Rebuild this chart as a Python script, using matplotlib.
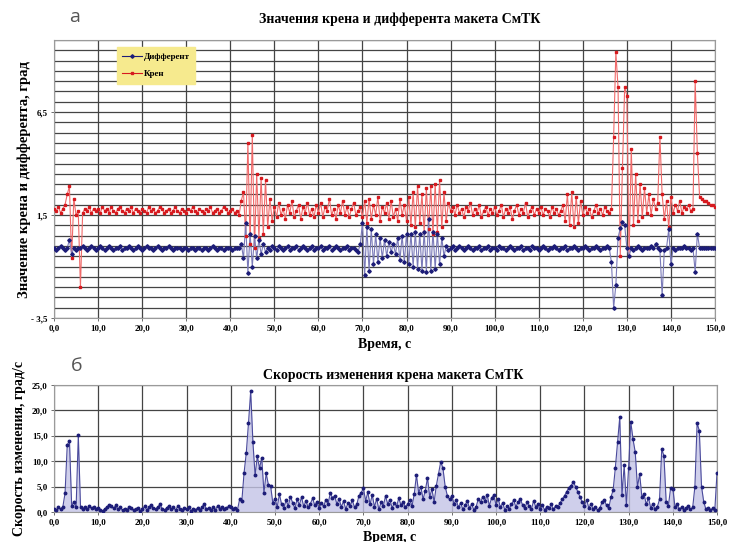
import numpy as np
import matplotlib
matplotlib.use("Agg")
import matplotlib.pyplot as plt
from matplotlib.lines import Line2D
from matplotlib.ticker import FuncFormatter, MultipleLocator

# ---------------- data (sampled every 0.5 s, 0 ... 150 s) ----------------
dt = 0.5

kren = [  # Крен, град
    1.8, 1.7, 1.9, 1.6, 1.8, 2.0, 2.5, 2.9, -0.6, 2.3, 1.5, 1.7, -2.0, 1.6, 1.8, 1.7, 1.9, 1.6, 1.8, 1.7,
    1.8, 1.6, 1.9, 1.7, 1.8, 1.6, 1.9, 1.7, 1.6, 1.8, 1.9, 1.7, 1.6, 1.8, 1.7, 1.9, 1.6, 1.8, 1.7, 1.6,
    1.8, 1.7, 1.6, 1.9, 1.7, 1.8, 1.6, 1.7, 1.9, 1.8, 1.6, 1.7, 1.8, 1.6, 1.7, 1.9, 1.7, 1.6, 1.8, 1.7,
    1.6, 1.8, 1.7, 1.9, 1.7, 1.6, 1.8, 1.7, 1.6, 1.8, 1.7, 1.9, 1.6, 1.7, 1.8, 1.6, 1.7, 1.9, 1.8, 1.6,
    1.7, 1.8, 1.6, 1.7, 1.5, 2.2, 2.6, 0.5, 5.0, 0.1, 5.4, -0.1, 3.5, 0.4, 3.3, 0.6, 3.2, 0.9, 2.3, 1.2,
    1.9, 1.4, 2.1, 1.5, 1.8, 1.3, 2.0, 1.6, 2.2, 1.4, 1.7, 2.0, 1.3, 1.9, 1.6, 2.1, 1.5, 1.8, 1.4, 2.0,
    1.6, 2.1, 1.4, 1.9, 1.7, 2.3, 1.5, 1.8, 1.3, 2.0, 1.6, 2.2, 1.5, 1.9, 1.4, 1.8, 2.1, 1.5, 1.7, 1.9,
    1.4, 2.2, 1.1, 2.3, 1.3, 2.0, 1.5, 2.4, 1.2, 1.9, 1.6, 2.1, 1.3, 2.2, 1.4, 1.8, 1.2, 2.3, 1.5, 2.0,
    1.2, 2.4, 1.0, 2.6, 0.9, 2.9, 1.1, 2.5, 0.7, 2.8, 0.8, 2.9, 0.6, 3.0, 0.7, 3.2, 0.9, 2.6, 1.2, 2.1,
    1.7, 1.9, 1.5, 2.0, 1.6, 1.8, 1.4, 1.9, 1.7, 2.1, 1.5, 1.8, 1.6, 2.0, 1.4, 1.7, 1.9, 1.5, 1.8, 1.6,
    1.9, 1.5, 1.7, 2.0, 1.4, 1.8, 1.6, 1.9, 1.3, 1.7, 2.0, 1.5, 1.8, 1.6, 2.1, 1.4, 1.7, 1.9, 1.5, 1.8,
    1.6, 1.9, 1.5, 1.8, 1.7, 1.4, 1.9, 1.6, 1.8, 1.5, 1.7, 2.0, 1.2, 2.5, 1.0, 2.6, 0.9, 2.4, 1.1, 2.2,
    1.5, 1.9, 1.6, 1.8, 1.4, 1.7, 2.0, 1.6, 1.8, 1.5, 1.9, 1.7, 1.6, 1.8, 5.3, 9.4, 7.7, -0.5, 3.8, 7.7,
    7.3, -0.5, 4.7, 1.0, 3.5, 1.2, 3.0, 1.4, 2.8, 1.6, 2.5, 1.5, 2.3, 1.8, 2.1, 5.3, 2.5, 1.3, 2.2, 0.9,
    2.4, 1.6, 2.0, 1.7, 2.2, 1.6, 1.9, 1.8, 2.0, 1.7, 1.8, 8.0, 4.5, 2.4, 2.3, 2.2, 2.2, 2.1, 2.0, 2.0,
    1.9,
]

different = [  # Дифферент, град
    -0.1, -0.2, -0.1, 0.0, -0.1, -0.2, -0.1, 0.3, -0.4, -0.1, -0.2, -0.1, -0.1, 0.0, -0.1, -0.2, -0.1, 0.0, -0.1, -0.2,
    -0.1, 0.0, -0.1, -0.2, -0.1, 0.0, -0.1, -0.2, -0.1, -0.1, 0.0, -0.2, -0.1, -0.1, 0.0, -0.1, -0.2, -0.1, 0.0, -0.1,
    -0.2, -0.1, 0.0, -0.1, -0.1, -0.2, -0.1, 0.0, -0.1, -0.2, -0.1, -0.1, 0.0, -0.1, -0.2, -0.1, -0.1, -0.1, -0.2, -0.1,
    -0.1, -0.2, -0.1, -0.1, -0.2, -0.1, -0.1, -0.2, -0.1, -0.1, -0.2, -0.1, 0.0, -0.1, -0.2, -0.1, -0.1, -0.2, -0.1, -0.1,
    -0.1, -0.2, -0.1, -0.1, -0.1, 0.1, -0.6, 1.1, -1.3, 0.6, -1.0, 0.5, -0.6, 0.3, -0.4, 0.1, -0.3, -0.1, -0.2, 0.0,
    -0.1, -0.2, 0.0, -0.1, -0.2, -0.1, 0.0, -0.2, -0.1, -0.1, 0.0, -0.2, -0.1, 0.0, -0.1, -0.2, -0.1, 0.0, -0.2, -0.1,
    -0.1, 0.0, -0.2, -0.1, -0.1, 0.0, -0.2, -0.1, 0.0, -0.1, -0.2, -0.1, -0.1, 0.0, -0.2, -0.1, -0.1, -0.2, -0.3, 0.1,
    1.1, -1.4, 0.9, -1.2, 0.8, -0.9, 0.6, -0.8, 0.4, -0.6, 0.3, -0.5, 0.2, -0.3, 0.1, -0.4, 0.4, -0.7, 0.5, -0.8,
    0.6, -0.9, 0.6, -1.0, 0.7, -1.1, 0.6, -1.2, 0.7, -1.25, 1.3, -1.2, 0.7, -1.1, 0.6, -0.9, 0.4, -0.5, 0.0, -0.2,
    -0.1, 0.0, -0.2, -0.1, 0.0, -0.1, -0.2, -0.1, 0.0, -0.1, -0.2, -0.1, -0.1, 0.0, -0.2, -0.1, -0.1, 0.0, -0.2, -0.1,
    -0.1, -0.2, 0.0, -0.1, -0.1, -0.2, -0.1, 0.0, -0.1, -0.2, -0.1, -0.1, 0.0, -0.2, -0.1, -0.1, -0.2, 0.0, -0.1, -0.1,
    -0.2, -0.1, 0.0, -0.1, -0.2, -0.1, -0.1, 0.0, -0.1, -0.2, -0.1, -0.1, 0.0, -0.2, -0.1, -0.1, 0.0, -0.1, -0.2, -0.1,
    -0.1, 0.0, -0.1, -0.2, -0.1, -0.1, 0.0, -0.1, -0.2, -0.1, -0.1, 0.0, -0.1, -0.8, -3.0, -1.9, 0.4, 0.85, 1.15, 1.0,
    -0.1, -0.5, -0.1, -0.2, -0.1, 0.0, -0.1, -0.2, -0.1, -0.1, -0.1, 0.0, -0.1, 0.1, -0.1, -0.2, -2.4, -0.2, -0.1, 0.8,
    -0.9, -0.1, -0.2, -0.1, -0.1, -0.1, 0.0, -0.1, -0.1, -0.2, -0.1, -1.25, 0.6, -0.1, -0.1, -0.1, -0.1, -0.1, -0.1, -0.1,
    -0.1,
]

speed = [  # Скорость изменения крена, град/с
    0.5, 0.3, 0.9, 0.6, 1.0, 3.7, 13.2, 14.0, 1.2, 2.0, 0.9, 15.1, 1.0, 0.6, 0.9, 0.5, 1.1, 0.7, 0.9, 0.6,
    0.8, 0.4, 0.2, 0.6, 1.0, 1.4, 1.2, 0.7, 1.3, 0.5, 0.9, 0.3, 0.6, 0.4, 1.0, 0.7, 0.3, 0.5, 0.8, 0.2,
    0.6, 1.1, 0.4, 0.9, 1.3, 0.7, 0.5, 1.0, 1.5, 0.6, 0.3, 0.8, 1.2, 0.5, 0.9, 0.4, 1.1, 0.6, 0.3, 0.7,
    0.5, 0.9, 0.2, 0.6, 0.4, 0.8, 0.3, 1.0, 1.6, 0.5, 0.7, 0.3, 0.9, 0.4, 1.2, 0.6, 1.0, 0.5, 0.8, 1.1,
    0.9, 0.5, 0.8, 0.4, 2.5, 2.2, 7.7, 11.6, 17.5, 23.8, 13.8, 7.2, 11.0, 8.6, 10.7, 3.8, 7.6, 5.4, 5.2, 1.8,
    2.6, 1.0, 3.5, 1.5, 0.8, 2.3, 1.2, 3.0, 1.8, 0.7, 2.5, 1.4, 2.9, 1.1, 2.2, 0.9, 1.6, 2.7, 1.3, 2.0,
    0.8, 1.8, 1.1, 2.4, 1.6, 3.7, 2.8, 3.2, 1.5, 2.6, 1.0, 2.1, 0.6, 1.7, 1.2, 2.3, 0.9, 1.5, 3.2, 3.8,
    4.7, 2.2, 3.9, 1.5, 3.4, 1.0, 2.6, 0.5, 1.9, 1.2, 3.1, 1.6, 2.4, 0.8, 1.8, 1.1, 2.7, 1.4, 2.0, 1.0,
    1.5, 2.4, 1.2, 3.5, 7.3, 3.8, 5.0, 2.5, 4.2, 6.7, 3.0, 4.5, 2.0, 5.2, 7.5, 9.9, 8.6, 5.0, 3.2, 2.5,
    3.2, 1.6, 2.4, 0.9, 1.8, 0.5, 1.3, 2.2, 0.8, 1.5, 0.4, 1.0, 2.6, 1.9, 3.0, 2.1, 3.4, 1.2, 2.8, 3.3,
    1.4, 2.6, 0.9, 1.8, 0.4, 1.1, 0.6, 1.5, 2.3, 1.0, 2.0, 2.6, 1.4, 0.7, 1.9, 1.2, 0.5, 2.2, 1.0, 1.6,
    0.6, 1.3, 0.4, 1.0, 0.7, 1.5, 0.5, 1.2, 1.0, 1.8, 2.5, 3.2, 4.0, 4.8, 5.2, 5.9, 5.0, 4.0, 3.0, 2.0,
    1.2, 2.4, 0.8, 1.6, 0.5, 1.0, 0.3, 0.8, 1.9, 2.4, 1.3, 0.7, 2.9, 4.3, 8.7, 13.8, 18.7, 3.3, 9.2, 1.4,
    8.7, 17.7, 14.3, 11.8, 4.9, 7.5, 3.0, 3.5, 1.5, 2.8, 0.8, 1.6, 0.5, 1.0, 2.5, 12.4, 11.0, 2.0, 1.2, 4.7,
    4.6, 1.0, 1.5, 0.6, 0.9, 0.4, 0.8, 1.2, 0.5, 0.9, 5.0, 17.5, 16.0, 5.0, 2.0, 0.5, 0.8, 0.4, 0.7, 0.3,
    7.7,
]

x_ticks = [0, 10, 20, 30, 40, 50, 60, 70, 80, 90, 100, 110, 120, 130, 140, 150]
top_yticks = [-3.5, 1.5, 6.5]
bot_yticks = [0, 5, 10, 15, 20, 25]

t_k = np.arange(len(kren)) * dt
t_d = np.arange(len(different)) * dt
t_s = np.arange(len(speed)) * dt

# ---------------- style ----------------
SERIF = ["Liberation Serif", "DejaVu Serif"]
plt.rcParams["font.family"] = SERIF
RED_L, RED_M = "#f06a6a", "#d61a1f"
BLU_L, BLU_M = "#7a7ab8", "#1d1d78"
GRID = "#444444"

def comma(v, pos=None):
    s = f"{abs(v):.1f}".replace(".", ",")
    return ("- " + s) if v < 0 else s

fig = plt.figure(figsize=(7.31, 5.42), dpi=100, facecolor="white")
W, H = 731, 542
def ax_rect(l, t, r, b):
    return [l / W, 1 - b / H, (r - l) / W, (b - t) / H]

# ---------------- top axes ----------------
ax1 = fig.add_axes(ax_rect(54, 40, 715, 318))
ax1.set_xlim(0, 150)
ax1.set_ylim(-3.5, 10.0)
ax1.set_xticks(x_ticks)
ax1.set_yticks(top_yticks)
ax1.yaxis.set_minor_locator(MultipleLocator(0.5))
ax1.xaxis.set_major_formatter(FuncFormatter(comma))
ax1.yaxis.set_major_formatter(FuncFormatter(comma))
ax1.grid(True, which="major", axis="x", color=GRID, lw=0.9)
ax1.grid(True, which="both", axis="y", color=GRID, lw=0.9)
ax1.set_axisbelow(True)

ax1.plot(t_k, kren, color=RED_L, lw=0.8, zorder=3)
ax1.plot(t_k, kren, ls="none", marker="s", ms=2.1, color=RED_M, zorder=4)
ax1.plot(t_d, different, color=BLU_L, lw=0.8, zorder=3)
ax1.plot(t_d, different, ls="none", marker="D", ms=1.8, color=BLU_M, zorder=4)

h1 = Line2D([], [], color=BLU_M, lw=0.8, marker="D", ms=1.8)
h2 = Line2D([], [], color=RED_M, lw=0.8, marker="s", ms=2.1)
leg = ax1.legend([h1, h2], ["Дифферент", "Крен"], loc="upper left",
                 bbox_to_anchor=(0.088, 0.99), frameon=True, fancybox=False,
                 handlelength=2.2, handletextpad=0.2, borderpad=0.6, labelspacing=1.0,
                 prop={"family": SERIF, "weight": "bold", "size": 6.5})
leg.get_frame().set_facecolor("#f6ea8e")
leg.get_frame().set_edgecolor("#f6ea8e")
leg.get_frame().set_alpha(1.0)
leg.set_zorder(6)

ax1.set_xlabel("Время, с", fontsize=10, fontweight="bold", labelpad=4)
ax1.set_ylabel("Значение крена и дифферента, град", fontsize=10.5, fontweight="bold", labelpad=0)

# ---------------- bottom axes ----------------
ax2 = fig.add_axes(ax_rect(54, 385, 717, 512))
ax2.set_xlim(0, 150)
ax2.set_ylim(0, 25)
ax2.set_xticks(x_ticks)
ax2.set_yticks(bot_yticks)
ax2.xaxis.set_major_formatter(FuncFormatter(comma))
ax2.yaxis.set_major_formatter(FuncFormatter(comma))
ax2.grid(True, which="major", color=GRID, lw=0.9)
ax2.set_axisbelow(True)
ax2.fill_between(t_s, speed, 0, color="#c4c4e6", alpha=0.8, lw=0, zorder=2)
ax2.plot(t_s, speed, color="#4a4a9c", lw=0.8, zorder=3)
ax2.plot(t_s, speed, ls="none", marker="o", ms=1.8, color=BLU_M, zorder=4)
ax2.set_ylabel("Скорость изменения, град/с", fontsize=10, fontweight="bold", labelpad=4)

for ax in (ax1, ax2):
    for sp in ax.spines.values():
        sp.set_color("#9a9a9a")
        sp.set_linewidth(0.8)
    ax.tick_params(axis="both", which="both", labelsize=6.5, length=2.5, width=0.6,
                   color="#555555", pad=2)
    ax.tick_params(axis="y", which="minor", length=0)
    for lab in ax.get_xticklabels() + ax.get_yticklabels():
        lab.set_fontweight("bold")

# ---------------- titles, x label of lower panel, panel letters ----------------
fig.text(400 / W, 1 - 19 / H, "Значения крена и дифферента макета СмТК", ha="center", va="center",
         fontsize=10, fontweight="bold")
fig.text(393 / W, 1 - 375 / H, "Скорость изменения крена макета СмТК", ha="center", va="center",
         fontsize=10, fontweight="bold")
fig.text(390 / W, 1 - 537 / H, "Время, с", ha="center", va="center",
         fontsize=10, fontweight="bold")
fig.text(75 / W, 1 - 17 / H, "а", ha="center", va="center", fontsize=14, color="#555555",
         family=["Open Sans", "DejaVu Sans"])
fig.text(77 / W, 1 - 366 / H, "б", ha="center", va="center", fontsize=14, color="#555555",
         family=["Open Sans", "DejaVu Sans"])

fig.savefig("out.png", dpi=100, facecolor="white")
